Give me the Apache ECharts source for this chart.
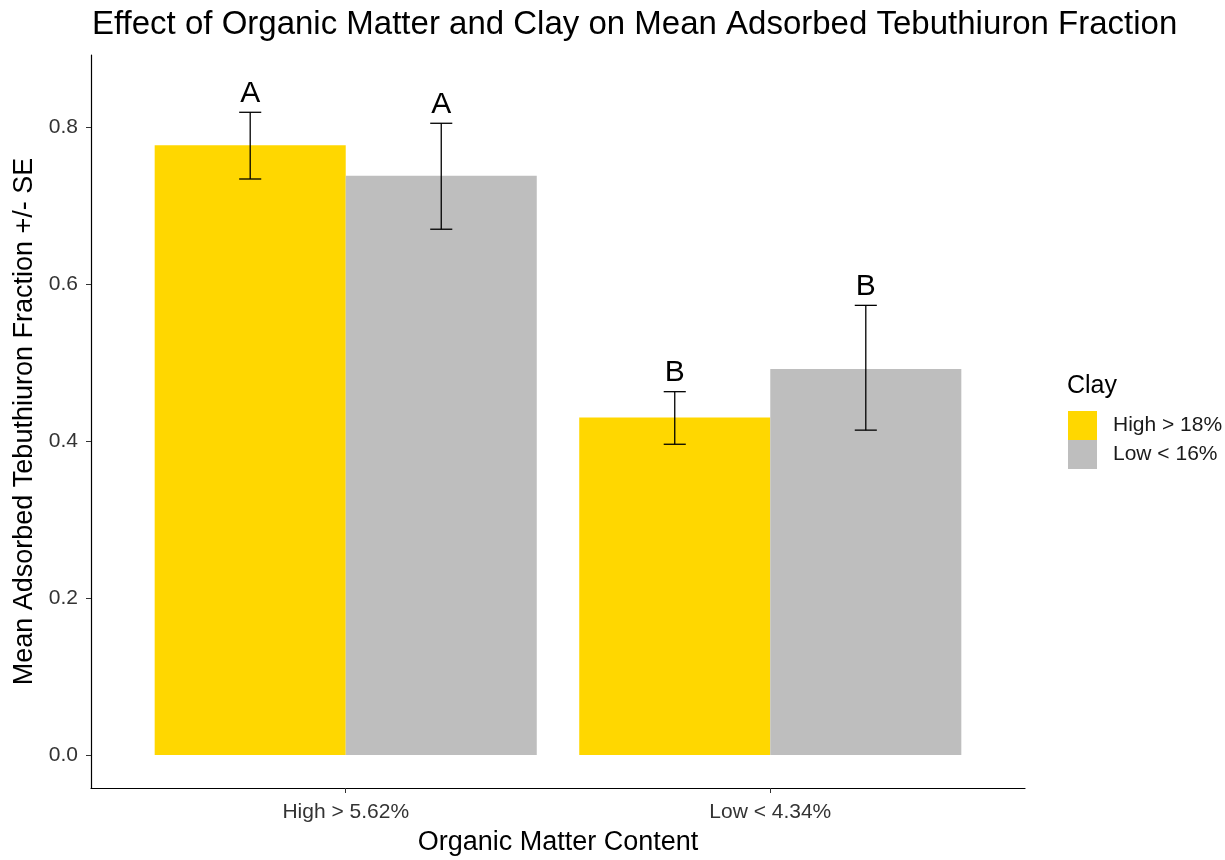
<!DOCTYPE html>
<html>
<head>
<meta charset="utf-8">
<script src="https://cdn.jsdelivr.net/npm/echarts@6/dist/echarts.min.js"></script>
<style>
  html, body { margin: 0; padding: 0; background: #fff; }
  #chart { width: 1225px; height: 860px; }
</style>
</head>
<body>
<div id="chart"></div>
<script>
// organic matter groups on the x axis
const omGroups = ['High > 5.62%', 'Low < 4.34%']
// clay levels (fill)
const clayLevels = ['High > 18%', 'Low < 16%']
const clayColors = ['#FFD700', '#BEBEBE']
// mean adsorbed fraction, per clay level, per OM group
const meanHighClay = [0.777, 0.430]
const meanLowClay = [0.738, 0.492]
// mean - SE / mean + SE
const lowerHighClay = [0.734, 0.396]
const upperHighClay = [0.819, 0.463]
const lowerLowClay = [0.670, 0.414]
const upperLowClay = [0.805, 0.573]
// significance letters
const lettersHighClay = ['A', 'B']
const lettersLowClay = ['A', 'B']
const yTicks = [0, 0.2, 0.4, 0.6, 0.8]

const dodge = 0.225
const barHalf = 0.225
const capHalf = 0.026

function barSeries (name, idx, means) {
  return {
    name: name,
    type: 'custom',
    itemStyle: { color: clayColors[idx] },
    data: means.map((v, i) => [i + 1 + (idx === 0 ? -dodge : dodge), v]),
    renderItem: function (params, api) {
      let x = api.value(0)
      let v = api.value(1)
      let p1 = api.coord([x - barHalf, v])
      let p2 = api.coord([x + barHalf, 0])
      return {
        type: 'rect',
        shape: { x: p1[0], y: p1[1], width: p2[0] - p1[0], height: p2[1] - p1[1] },
        style: { fill: clayColors[idx] }
      }
    },
    z: 2
  }
}

function errSeries (idx, lower, upper, letters) {
  return {
    type: 'custom',
    data: lower.map((v, i) => [i + 1 + (idx === 0 ? -dodge : dodge), v, upper[i]]),
    renderItem: function (params, api) {
      let x = api.value(0)
      let lo = api.coord([x, api.value(1)])
      let hi = api.coord([x, api.value(2)])
      let l = api.coord([x - capHalf, 0])[0]
      let r = api.coord([x + capHalf, 0])[0]
      let st = { stroke: '#000', lineWidth: 1.3 }
      return {
        type: 'group',
        children: [
          { type: 'line', shape: { x1: lo[0], y1: lo[1], x2: hi[0], y2: hi[1] }, style: st },
          { type: 'line', shape: { x1: l, y1: lo[1], x2: r, y2: lo[1] }, style: st },
          { type: 'line', shape: { x1: l, y1: hi[1], x2: r, y2: hi[1] }, style: st },
          {
            type: 'text',
            style: {
              text: letters[params.dataIndex],
              x: hi[0],
              y: hi[1] - 4,
              align: 'center',
              verticalAlign: 'bottom',
              fontSize: 30,
              fontFamily: 'Liberation Sans',
              fill: '#000'
            }
          }
        ]
      }
    },
    z: 3
  }
}

let chart = echarts.init(document.getElementById('chart'))
chart.setOption({
  animation: false,
  color: clayColors,
  textStyle: { fontFamily: 'Liberation Sans' },
  title: [{
    text: 'Effect of Organic Matter and Clay on Mean Adsorbed Tebuthiuron Fraction',
    left: 87,
    top: 3,
    textStyle: { fontSize: 33, fontWeight: 'normal', color: '#000', fontFamily: 'Liberation Sans' }
  }, {
    text: 'Clay',
    left: 1062,
    top: 369,
    textStyle: { fontSize: 25, fontWeight: 'normal', color: '#000', fontFamily: 'Liberation Sans' }
  }],
  legend: {
    data: clayLevels,
    orient: 'vertical',
    left: 1063,
    top: 406,
    itemWidth: 29,
    itemHeight: 29,
    itemGap: 0,
    icon: 'rect',
    textStyle: { fontSize: 21, color: '#1a1a1a', fontFamily: 'Liberation Sans', padding: [0, 0, 0, 11] }
  },
  grid: { left: 91, right: 200, top: 55, bottom: 72, outerBoundsMode: 'none' },
  xAxis: {
    type: 'value',
    min: 0.4,
    max: 2.6,
    name: 'Organic Matter Content',
    nameLocation: 'middle',
    nameGap: 41,
    nameTextStyle: { fontSize: 27, color: '#000' },
    axisLine: { show: true, onZero: false, lineStyle: { color: '#000', width: 1.2 } },
    axisTick: { show: true, customValues: [1, 2], length: 5, lineStyle: { color: '#333' } },
    axisLabel: {
      customValues: [1, 2],
      formatter: v => omGroups[Math.round(v) - 1],
      fontSize: 21,
      color: '#333',
      margin: 14
    },
    splitLine: { show: false }
  },
  yAxis: {
    type: 'value',
    min: -0.042,
    max: 0.892,
    name: 'Mean Adsorbed Tebuthiuron Fraction +/- SE',
    nameLocation: 'middle',
    nameGap: 46,
    nameTextStyle: { fontSize: 27, color: '#000' },
    axisLine: { show: true, onZero: false, lineStyle: { color: '#000', width: 1.2 } },
    axisTick: { show: true, customValues: yTicks, length: 5, lineStyle: { color: '#333' } },
    axisLabel: {
      customValues: yTicks,
      formatter: v => v.toFixed(1),
      fontSize: 21,
      color: '#333',
      margin: 13
    },
    splitLine: { show: false }
  },
  series: [
    barSeries(clayLevels[0], 0, meanHighClay),
    barSeries(clayLevels[1], 1, meanLowClay),
    errSeries(0, lowerHighClay, upperHighClay, lettersHighClay),
    errSeries(1, lowerLowClay, upperLowClay, lettersLowClay)
  ]
})
</script>
</body>
</html>
